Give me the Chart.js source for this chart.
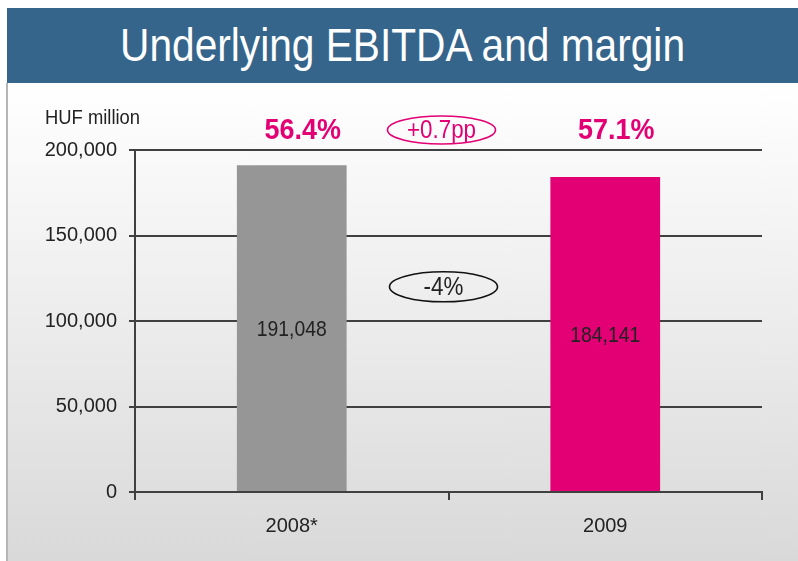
<!DOCTYPE html>
<html><head><meta charset="utf-8">
<script src="https://cdn.jsdelivr.net/npm/chart.js@4.4.1/dist/chart.umd.min.js"></script>
<style>
html,body{margin:0;padding:0;width:798px;height:561px;overflow:hidden;background:#fff;}
#wrap{position:absolute;left:0;top:0;width:798px;height:561px;}
#bg{position:absolute;left:8px;top:83px;width:790px;height:478px;background:linear-gradient(#ffffff,#d9d9d9);}
#lline{position:absolute;left:6px;top:83px;width:2px;height:478px;background:#b5b5b5;}
#title{position:absolute;left:7px;top:8px;width:791px;height:75px;background:#36658b;color:#fff;
 font-family:"Liberation Sans",Arial,sans-serif;font-size:47px;line-height:73px;text-align:center;}
#title span{display:inline-block;transform:scaleX(0.865);transform-origin:center;white-space:nowrap;}
#c{position:absolute;left:0;top:0;}
</style></head><body>
<div id="wrap"><div id="bg"></div><div id="lline"></div><div id="title"><span>Underlying EBITDA and margin</span></div>
<canvas id="c" width="798" height="561"></canvas></div>
<script>
const categories = ["2008*", "2009"];
const ebitda = [191048, 184141];
const ebitdaLabels = ["191,048", "184,141"];
const marginLabels = ["56.4%", "57.1%"];
const marginChange = "+0.7pp";
const ebitdaChange = "-4%";
const unitLabel = "HUF million";
const barColors = ["#969696", "#e20074"];

const FONT = '"Liberation Sans",Arial,sans-serif';
const PINK = "#e20074";

function ellipse(ctx, cx, cy, rx, ry, color, lw){
  ctx.save(); ctx.beginPath(); ctx.ellipse(cx, cy, rx, ry, 0, 0, Math.PI*2);
  ctx.strokeStyle = color; ctx.lineWidth = lw; ctx.stroke(); ctx.restore();
}
function narrowText(ctx, t, x, y, sx){
  ctx.save(); ctx.translate(x, y); ctx.scale(sx, 1); ctx.fillText(t, 0, 0); ctx.restore();
}

const annot = {
  id: "annot",
  afterDatasetsDraw(chart){
    const ctx = chart.ctx, xs = chart.scales.x, ys = chart.scales.y;
    ctx.save();
    ctx.textAlign = "center"; ctx.textBaseline = "middle";
    ctx.font = "22px " + FONT; ctx.fillStyle = "#222";
    ebitda.forEach((v,i)=>{
      const x = xs.getPixelForValue(i);
      const y = (ys.getPixelForValue(v) + ys.getPixelForValue(0))/2;
      narrowText(ctx, ebitdaLabels[i], x, y + 1, 0.88);
    });
    ctx.font = "bold 29px " + FONT; ctx.fillStyle = PINK;
    const topY = ys.getPixelForValue(200000) - 20;
    marginLabels.forEach((t,i)=>{ narrowText(ctx, t, xs.getPixelForValue(i) + 11, topY + 1, 0.93); });
    const mid = (xs.getPixelForValue(0) + xs.getPixelForValue(1))/2;
    ctx.font = "26px " + FONT; ctx.fillStyle = PINK;
    narrowText(ctx, marginChange, mid - 7, topY + 1, 0.86);
    ellipse(ctx, mid - 7, topY, 54, 14, PINK, 1.6);
    const cy = ys.getPixelForValue(120000);
    ctx.font = "26px " + FONT; ctx.fillStyle = "#222";
    narrowText(ctx, ebitdaChange, mid - 5, cy + 1, 0.86);
    ellipse(ctx, mid - 5, cy, 54, 15, "#111", 1.6);
    ctx.font = "20px " + FONT; ctx.fillStyle = "#222"; ctx.textAlign = "left";
    ctx.save(); ctx.translate(45, 118); ctx.scale(0.92, 1); ctx.fillText(unitLabel, 0, 0); ctx.restore();
    ctx.restore();
  }
};

new Chart(document.getElementById("c"), {
  type: "bar",
  data: { labels: categories, datasets: [{ data: ebitda, backgroundColor: barColors,
    barPercentage: 0.35, categoryPercentage: 1.0 }] },
  options: {
    responsive: false, animation: false,
    layout: { padding: { top: 150, right: 36, left: 0, bottom: 0 } },
    plugins: { legend: { display: false }, tooltip: { enabled: false } },
    scales: {
      y: {
        min: 0, max: 200000,
        afterFit(s){ s.width = 135; },
        ticks: { stepSize: 50000, color: "#222", padding: 12,
          font: { family: FONT, size: 20 },
          callback: v => v.toLocaleString("en-US") },
        grid: { color: "#404040", lineWidth: 2, tickLength: 6, drawTicks: true },
        border: { color: "#404040", width: 2 }
      },
      x: {
        afterFit(s){ s.height = 69; },
        ticks: { color: "#222", padding: 14, font: { family: FONT, size: 20 } },
        grid: { offset: true, drawOnChartArea: false, drawTicks: true, tickLength: 8, color: "#404040", lineWidth: 2 },
        border: { color: "#404040", width: 2 }
      }
    }
  },
  plugins: [annot]
});
</script>
</body></html>
